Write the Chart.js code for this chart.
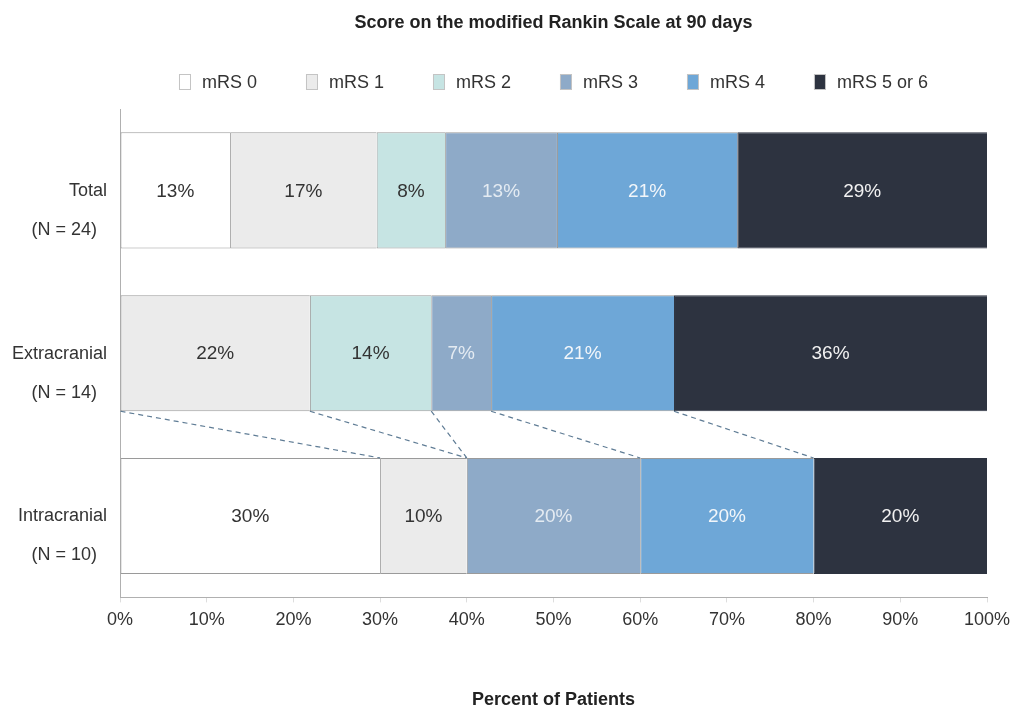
<!DOCTYPE html>
<html>
<head>
<meta charset="utf-8">
<title>Score on the modified Rankin Scale at 90 days</title>
<script src="https://cdn.jsdelivr.net/npm/chart.js@4.4.0/dist/chart.umd.min.js"></script>
<style>
  html, body { margin: 0; padding: 0; background: #fff; }
  #wrap { width: 1011px; height: 709px; }
</style>
</head>
<body>
<div id="wrap"><canvas id="mrsChart"></canvas></div>
<script>
// Groups (rows) and their sizes
const categories = ["Total", "Extracranial", "Intracranial"];
const groupSizes = ["(N = 24)", "(N = 14)", "(N = 10)"];

// Series names
const seriesNames = ["mRS 0", "mRS 1", "mRS 2", "mRS 3", "mRS 4", "mRS 5 or 6"];

// Percent of patients per row (Total, Extracranial, Intracranial)
const mrs0 = [12.7, 0, 30];
const mrs1 = [16.9, 21.9, 10];
const mrs2 = [7.9, 14.0, 0];
const mrs3 = [12.9, 6.9, 20];
const mrs4 = [20.8, 21.1, 20];
const mrs56 = [28.8, 36.1, 20];

// Axis ticks
const xTicks = [0, 10, 20, 30, 40, 50, 60, 70, 80, 90, 100];

const seriesValues = [mrs0, mrs1, mrs2, mrs3, mrs4, mrs56];
const fillColors = ["#ffffff", "#ebebeb", "#c6e4e3", "#8eaac8", "#6ea7d7", "#2d3340"];
const labelColors = ["#333333", "#333333", "#333333", "#e4ebf2", "#f2f6fa", "#f2f2f2"];

const FONT = "'Liberation Sans', Arial, Helvetica, sans-serif";
Chart.defaults.font.family = FONT;
Chart.defaults.color = "#333";

// Percent labels inside each segment
const segmentLabels = {
  id: "segmentLabels",
  afterDatasetsDraw(chart) {
    const ctx = chart.ctx;
    ctx.save();
    ctx.font = "19px " + FONT;
    ctx.textAlign = "center";
    ctx.textBaseline = "middle";
    chart.data.datasets.forEach((ds, i) => {
      const meta = chart.getDatasetMeta(i);
      meta.data.forEach((bar, j) => {
        const v = ds.data[j];
        if (!v) return;
        ctx.fillStyle = labelColors[i];
        ctx.fillText(Math.round(v) + "%", (bar.x + bar.base) / 2, bar.y + 1);
      });
    });
    ctx.restore();
  },
};

// Dashed lines linking Extracranial segments to Intracranial segments
const connectors = {
  id: "connectors",
  afterDatasetsDraw(chart) {
    const ctx = chart.ctx;
    ctx.save();
    ctx.strokeStyle = "#5f7c95";
    ctx.lineWidth = 1.2;
    ctx.setLineDash([5, 4]);
    for (let i = 1; i < chart.data.datasets.length; i++) {
      const meta = chart.getDatasetMeta(i);
      const upper = meta.data[1];
      const lower = meta.data[2];
      ctx.beginPath();
      ctx.moveTo(upper.base, upper.y + upper.height / 2);
      ctx.lineTo(lower.base, lower.y - lower.height / 2);
      ctx.stroke();
    }
    ctx.restore();
  },
};

// Legend row with evenly spaced items
const evenLegend = {
  id: "evenLegend",
  afterDraw(chart) {
    const ctx = chart.ctx;
    const area = chart.chartArea;
    const step = 127;
    const textGap = 23;
    ctx.save();
    ctx.font = "18px " + FONT;
    ctx.textBaseline = "middle";
    ctx.textAlign = "left";
    const lastW = ctx.measureText(seriesNames[seriesNames.length - 1]).width;
    const total = step * (seriesNames.length - 1) + textGap + lastW;
    const x0 = (area.left + area.right) / 2 - total / 2;
    const y = 82;
    seriesNames.forEach((name, i) => {
      const x = x0 + i * step;
      ctx.fillStyle = fillColors[i];
      ctx.fillRect(x, y - 8, 12, 16);
      ctx.strokeStyle = "#c4c4c4";
      ctx.lineWidth = 1;
      ctx.strokeRect(x + 0.5, y - 7.5, 11, 15);
      ctx.fillStyle = "#333";
      ctx.fillText(name, x + textGap, y + 1);
    });
    ctx.restore();
  },
};

const datasets = seriesNames.map((name, i) => ({
  label: name,
  data: seriesValues[i],
  backgroundColor: fillColors[i],
  borderColor: i === 5 ? "#2d3340" : "#9a9a9a",
  borderWidth: { top: 1, bottom: 1, left: 1, right: 0 },
  borderSkipped: false,
  barPercentage: 0.713,
  categoryPercentage: 1,
}));

new Chart(document.getElementById("mrsChart"), {
  type: "bar",
  data: {
    labels: categories.map((c, i) => [c, groupSizes[i] + "  "]),
    datasets: datasets,
  },
  options: {
    indexAxis: "y",
    responsive: true,
    maintainAspectRatio: false,
    animation: false,
    layout: { padding: { left: 0, right: 0, top: 0, bottom: 0 } },
    plugins: {
      legend: { display: false },
      tooltip: { enabled: false },
      title: {
        display: true,
        fullSize: false,
        text: "Score on the modified Rankin Scale at 90 days",
        color: "#222",
        font: { size: 18, weight: "bold", lineHeight: 1.2 },
        padding: { top: 12, bottom: 75.4 },
      },
    },
    scales: {
      x: {
        stacked: true,
        min: 0,
        max: 100,
        afterBuildTicks(scale) {
          scale.ticks = xTicks.map((v) => ({ value: v }));
        },
        afterFit(scale) {
          // leave just enough room on the right for the "100%" label
          scale.paddingRight = 24;
        },
        ticks: {
          callback: (v) => v + "%",
          font: { size: 18 },
          color: "#333",
          padding: 7,
          maxRotation: 0,
        },
        grid: {
          drawOnChartArea: false,
          drawTicks: true,
          tickLength: 5,
          color: "#dddddd",
        },
        border: { color: "#b0b0b0" },
        title: {
          display: true,
          text: "Percent of Patients",
          color: "#222",
          font: { size: 18, weight: "bold", lineHeight: 1 },
          padding: { top: 53, bottom: 0 },
        },
      },
      y: {
        stacked: true,
        afterFit(scale) {
          scale.width = 120;
        },
        grid: { display: false, drawTicks: false },
        border: { color: "#b0b0b0" },
        ticks: {
          font: { size: 18, lineHeight: 2.17 },
          color: "#333",
          padding: 13,
          labelOffset: 20,
        },
      },
    },
  },
  plugins: [segmentLabels, connectors, evenLegend],
});
</script>
</body>
</html>
